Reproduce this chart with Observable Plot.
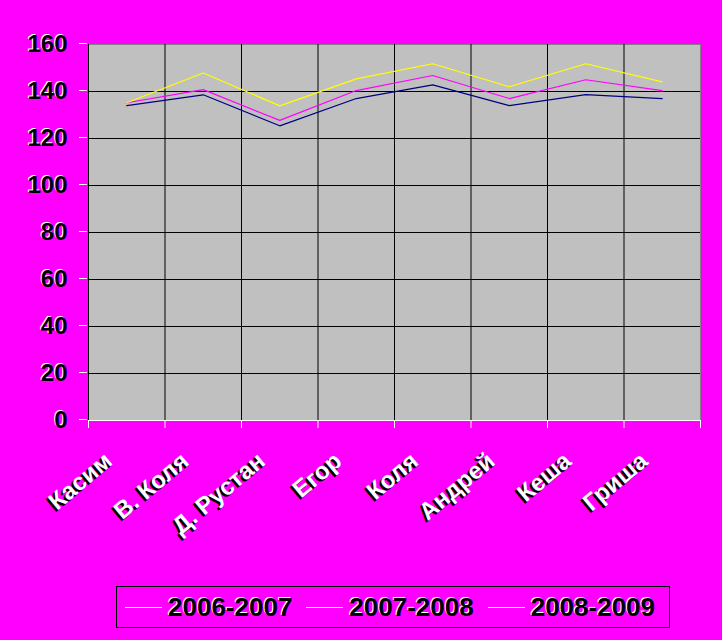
<!DOCTYPE html>
<html>
<head>
<meta charset="utf-8">
<script src="https://cdn.jsdelivr.net/npm/d3@7"></script>
<script src="https://cdn.jsdelivr.net/npm/@observablehq/plot@0.6"></script>
<style>
  html, body { margin: 0; padding: 0; background: #FF00FF; width: 722px; height: 640px; overflow: hidden; }
  #chart { position: absolute; left: 0; top: 0; }
  #legend {
    position: absolute; left: 116px; top: 586px; width: 552px; height: 40px;
    border: 1px solid #000; display: flex; align-items: center; box-sizing: content-box;
    font-family: "Liberation Sans", Arial, sans-serif; font-weight: bold; font-size: 26px;
  }
  .item { display: flex; align-items: center; margin-left: 8px; margin-right: 6px; }
  .swatch { width: 37px; height: 0; border-top: 1px solid #fff; margin-right: 6px; }
  .lbl { color: #000; text-shadow: -1px -1px 0 #fff; }
</style>
</head>
<body>
<div id="chart"></div>
<div id="legend"></div>
<script>
const categories = ["Касим", "В. Коля", "Д. Рустан", "Егор", "Коля", "Андрей", "Кеша", "Гриша"];
const seriesNames = ["2006-2007", "2007-2008", "2008-2009"];
const values2006 = [134, 138.6, 125.4, 137, 142.8, 134, 138.7, 137];
const values2007 = [135.2, 140.8, 127.7, 140.4, 146.8, 137, 145, 140.4];
const values2008 = [135.2, 147.9, 133.9, 145.4, 151.8, 142, 151.8, 144.1];
const seriesColors = ["#000080", "#FF00FF", "#FFFF00"];
const yTicks = [0, 20, 40, 60, 80, 100, 120, 140, 160];

const allSeries = [values2006, values2007, values2008];
const data = [];
allSeries.forEach((vals, s) => vals.forEach((v, i) => data.push({i, cat: categories[i], value: v, series: seriesNames[s]})));
const idx = categories.map((_, i) => i);
const bounds = d3.range(-0.5, categories.length, 1);

const font = {fontSize: 24, fontWeight: "bold"};
const xfont = {fontSize: 24, fontWeight: "bold"};

const chart = Plot.plot({
  width: 722, height: 580,
  marginLeft: 88, marginRight: 22, marginTop: 44, marginBottom: 160,
  style: {background: "transparent", fontFamily: "'Liberation Sans', Arial, sans-serif", overflow: "visible"},
  x: {type: "linear", domain: [-0.5, categories.length - 0.5]},
  y: {domain: [0, 160]},
  color: {domain: seriesNames, range: seriesColors},
  marks: [
    Plot.frame({fill: "#C0C0C0", stroke: "#808080"}),
    Plot.gridY(yTicks.filter(v => v > 0 && v < 160), {stroke: "#000", strokeOpacity: 1}),
    Plot.gridX(bounds.slice(1, -1), {stroke: "#000", strokeOpacity: 1}),
    Plot.ruleX([-0.5], {stroke: "#000"}),
    Plot.ruleY([0], {stroke: "#fff"}),
    // y axis: white ticks, black labels with white shadow
    Plot.axisY(yTicks, {tickSize: 8, stroke: "#fff", tickPadding: 13, fill: "#fff", dx: -1, dy: -1, label: null, ...font}),
    Plot.axisY(yTicks, {tickSize: 0, tickPadding: 21, fill: "#000", label: null, ...font}),
    // x axis tick marks at category boundaries
    Plot.axisX(bounds, {tickSize: 8, stroke: "#fff", tickFormat: () => "", label: null}),
    // x labels: white with black shadow, rotated
    Plot.axisX(idx, {tickSize: 0, tickPadding: 0, tickRotate: -40, tickFormat: i => categories[i], fill: "#000", dx: -20, dy: 39, label: null, ...xfont}),
    Plot.axisX(idx, {tickSize: 0, tickPadding: 0, tickRotate: -40, tickFormat: i => categories[i], fill: "#fff", dx: -18, dy: 37, label: null, ...xfont}),
    Plot.line(data, {x: "i", y: "value", z: "series", stroke: "series", strokeWidth: 1.2})
  ]
});
document.getElementById("chart").appendChild(chart);

const legend = document.getElementById("legend");
seriesNames.forEach(name => {
  const item = document.createElement("div");
  item.className = "item";
  const sw = document.createElement("div");
  sw.className = "swatch";
  const lb = document.createElement("span");
  lb.className = "lbl";
  lb.textContent = name;
  item.appendChild(sw);
  item.appendChild(lb);
  legend.appendChild(item);
});
</script>
</body>
</html>
